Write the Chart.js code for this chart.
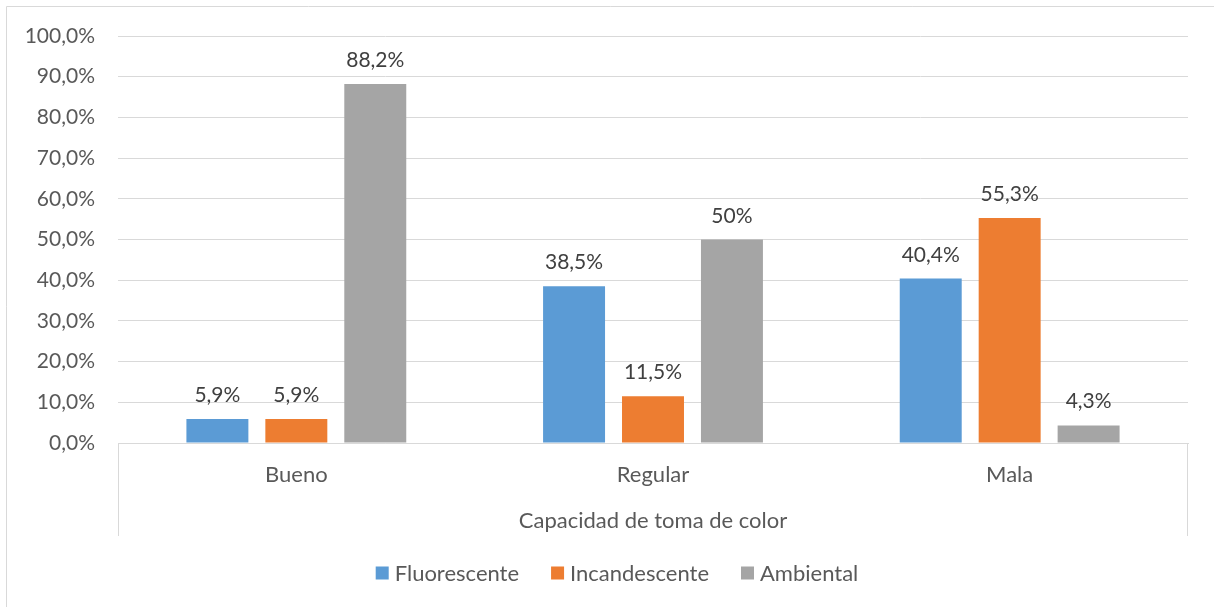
<!DOCTYPE html>
<html>
<head>
<meta charset="utf-8">
<script src="https://cdn.jsdelivr.net/npm/chart.js@4"></script>
<style>
  html, body { margin: 0; padding: 0; background: #fff; }
  #wrap { width: 1214px; height: 607px; position: relative; }
</style>
</head>
<body>
<div id="wrap"><canvas id="c"></canvas></div>
<script>
// Categories and series (percent values)
const categories = ['Bueno', 'Regular', 'Mala'];
const seriesNames = ['Fluorescente', 'Incandescente', 'Ambiental'];
const fluorescente = [5.9, 38.5, 40.4];
const incandescente = [5.9, 11.5, 55.3];
const ambiental = [88.2, 50, 4.3];
const yTicks = [0, 10, 20, 30, 40, 50, 60, 70, 80, 90, 100];
const axisTitle = 'Capacidad de toma de color';

const colors = ['#5B9BD5', '#ED7D31', '#A5A5A5'];
const FONT = 'Lato, "Open Sans", sans-serif';
const TEXT = '#595959';
const LABEL = '#404040';
const GRID = '#D9D9D9';

function pct1(v) { return v.toFixed(1).replace('.', ',') + '%'; }
function labelText(v) { return Number.isInteger(v) ? v + '%' : pct1(v); }

// Value labels above each bar
const valueLabels = {
  id: 'valueLabels',
  afterDatasetsDraw(chart) {
    const ctx = chart.ctx;
    ctx.save();
    ctx.font = '21px ' + FONT;
    ctx.fillStyle = LABEL;
    ctx.textAlign = 'center';
    ctx.textBaseline = 'alphabetic';
    chart.data.datasets.forEach((ds, i) => {
      chart.getDatasetMeta(i).data.forEach((el, j) => {
        ctx.fillText(labelText(ds.data[j]), el.x, el.y - 17);
      });
    });
    ctx.restore();
  }
};

// Frame, category-axis side lines, axis title and legend
const decorations = {
  id: 'decorations',
  afterDraw(chart) {
    const ctx = chart.ctx;
    const a = chart.chartArea;
    ctx.save();
    ctx.strokeStyle = GRID;
    ctx.lineWidth = 1;
    ctx.beginPath();
    ctx.moveTo(6.5, 607); ctx.lineTo(6.5, 6.5); ctx.lineTo(1214, 6.5);
    ctx.moveTo(Math.round(a.left) + 0.5, a.bottom); ctx.lineTo(Math.round(a.left) + 0.5, a.bottom + 93);
    ctx.moveTo(Math.round(a.right) - 0.5, a.bottom); ctx.lineTo(Math.round(a.right) - 0.5, a.bottom + 93);
    ctx.stroke();

    ctx.font = '22px ' + FONT;
    ctx.fillStyle = TEXT;
    ctx.textAlign = 'center';
    ctx.textBaseline = 'middle';
    ctx.fillText(axisTitle, (a.left + a.right) / 2, a.bottom + 78);

    // legend
    const box = 13, gapText = 6, gapItem = 32;
    const widths = chart.data.datasets.map(ds => ctx.measureText(ds.label).width);
    const total = widths.reduce((s, w) => s + box + gapText + w, 0) + gapItem * (widths.length - 1);
    let x = 617 - total / 2;
    const y = 573;
    ctx.textAlign = 'left';
    chart.data.datasets.forEach((ds, i) => {
      ctx.fillStyle = ds.backgroundColor;
      ctx.fillRect(x, y - box / 2, box, box);
      ctx.fillStyle = TEXT;
      ctx.fillText(ds.label, x + box + gapText, y + 1);
      x += box + gapText + widths[i] + gapItem;
    });
    ctx.restore();
  }
};

const seriesData = [fluorescente, incandescente, ambiental];

new Chart(document.getElementById('c'), {
  type: 'bar',
  data: {
    labels: categories,
    datasets: seriesNames.map((name, i) => ({
      label: name,
      data: seriesData[i],
      backgroundColor: colors[i],
      borderWidth: 0,
      categoryPercentage: 0.664,
      barPercentage: 0.785
    }))
  },
  options: {
    responsive: true,
    maintainAspectRatio: false,
    animation: false,
    layout: { padding: { top: 36, right: 26, left: 0, bottom: 0 } },
    plugins: {
      legend: { display: false },
      tooltip: { enabled: false }
    },
    scales: {
      x: {
        grid: { display: false, drawTicks: false },
        border: { display: true, color: GRID, width: 1 },
        ticks: { color: TEXT, font: { family: FONT, size: 22 }, padding: 19 },
        afterFit(scale) { scale.height = 164; }
      },
      y: {
        min: 0,
        max: 100,
        afterBuildTicks(scale) { scale.ticks = yTicks.map(v => ({ value: v })); },
        grid: { color: GRID, lineWidth: 1, drawTicks: false },
        border: { display: false },
        ticks: {
          color: TEXT,
          font: { family: FONT, size: 21 },
          padding: 23,
          callback: v => pct1(v)
        },
        afterFit(scale) { scale.width = 118; }
      }
    }
  },
  plugins: [valueLabels, decorations]
});
</script>
</body>
</html>
